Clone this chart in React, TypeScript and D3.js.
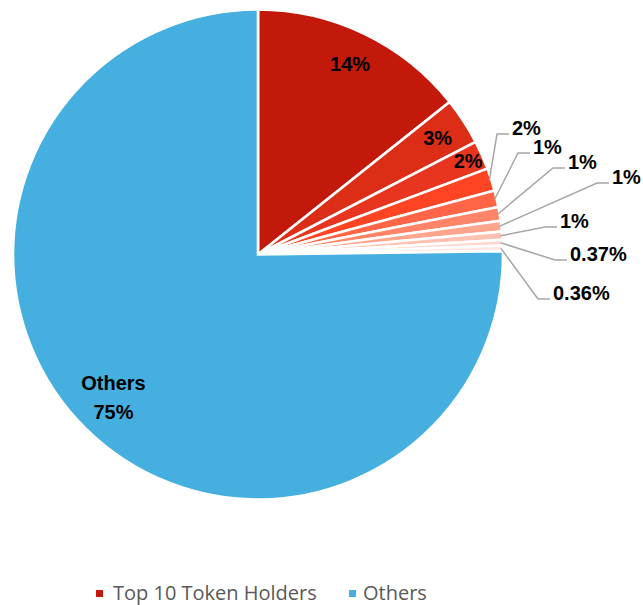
import React from "react";
import * as d3 from "d3";

const holderLabels = ["14%", "3%", "2%", "2%", "1%", "1%", "1%", "1%", "0.37%", "0.36%"];
const holderValues = [14.3, 3.1, 1.9, 1.5, 1.1, 0.9, 0.7, 0.55, 0.37, 0.36];
const othersValue = 75.22;
const othersLabel = "75%";
const holderColors = [
  "#C2190A", "#DC2D17", "#E83520", "#FF4423", "#FF6546", "#FF8468",
  "#FFA58E", "#FFC1B1", "#FFD6CC", "#FFE8E2",
];
const othersColor = "#45AFE0";
const legendItems = ["Top 10 Token Holders", "Others"];

// label layout (annotation placement)
const insideLabelRadius = [212, 214, 230];
const outsideLabelAnchors: [number, number][] = [
  [497, 134], [518, 153], [553, 168], [597, 183], [545, 227], [555, 260], [538, 299],
];

const W = 643;
const H = 605;
const cx = 258;
const cy = 254.5;
const R = 245;

export default function App() {
  const values = [...holderValues, othersValue];
  const pie = d3.pie<number>().sort(null).startAngle(0).endAngle(2 * Math.PI);
  const arcs = pie(values);
  const arcGen = d3.arc<d3.PieArcDatum<number>>().innerRadius(0).outerRadius(R);
  const font = "'Liberation Sans', Arial, sans-serif";

  return (
    <div style={{ position: "fixed", left: 0, top: 0 }}>
      <svg width={W} height={H} style={{ display: "block", background: "#fff" }}>
        <g transform={`translate(${cx},${cy})`}>
          {arcs.map((a, i) => (
            <path
              key={i}
              d={arcGen(a) || ""}
              fill={i < holderValues.length ? holderColors[i] : othersColor}
              stroke="#fff"
              strokeWidth={2.6}
              strokeLinejoin="miter"
            />
          ))}
        </g>
        {arcs.slice(0, 3).map((a, i) => {
          const mid = (a.startAngle + a.endAngle) / 2;
          const r = insideLabelRadius[i];
          const x = cx + r * Math.sin(mid);
          const y = cy - r * Math.cos(mid);
          return (
            <text key={`in${i}`} x={x} y={y + 7} textAnchor="middle" fontFamily={font}
              fontWeight="bold" fontSize={20} fill="#000">
              {holderLabels[i]}
            </text>
          );
        })}
        {arcs.slice(3, holderValues.length).map((a, j) => {
          const i = j + 3;
          const mid = (a.startAngle + a.endAngle) / 2;
          const sx = cx + (R - 2) * Math.sin(mid);
          const sy = cy - (R - 2) * Math.cos(mid);
          const [ex, ey] = outsideLabelAnchors[j];
          return (
            <g key={`out${i}`}>
              <polyline
                points={`${sx},${sy} ${ex},${ey} ${ex + 12},${ey}`}
                fill="none" stroke="#A6A6A6" strokeWidth={1.5}
              />
              <text x={ex + 15} y={ey - 6 + 7} fontFamily={font} fontWeight="bold"
                fontSize={20} fill="#000">
                {holderLabels[i]}
              </text>
            </g>
          );
        })}
        <g>
          <text x={113.5} y={390} textAnchor="middle" fontFamily={font} fontWeight="bold"
            fontSize={20} fill="#000">Others</text>
          <text x={113.5} y={419} textAnchor="middle" fontFamily={font} fontWeight="bold"
            fontSize={20} fill="#000">{othersLabel}</text>
        </g>
        <g fontFamily="'Open Sans', 'Liberation Sans', sans-serif" fontSize={20} fill="#595959">
          <rect x={96} y={590} width={7} height={7} fill={holderColors[0]} />
          <text x={113} y={600}>{legendItems[0]}</text>
          <rect x={349} y={590} width={7} height={7} fill={othersColor} />
          <text x={363} y={600}>{legendItems[1]}</text>
        </g>
      </svg>
    </div>
  );
}
